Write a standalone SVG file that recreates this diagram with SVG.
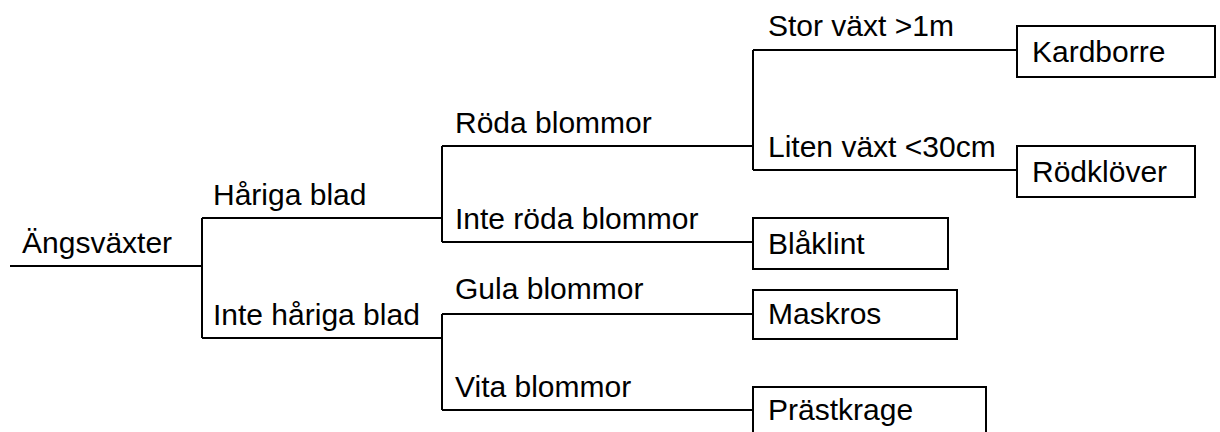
<svg xmlns="http://www.w3.org/2000/svg" width="1220" height="432" viewBox="0 0 1220 432">
<style>
  .ln { stroke: #000; stroke-width: 2; fill: none; }
  .box { stroke: #000; stroke-width: 2; fill: #fff; }
  text { font-family: "Liberation Sans", Arial, sans-serif; font-size: 30px; fill: #000; }
</style>
<rect width="1220" height="432" fill="#fff"/>
<g id="connectors">
  <path class="ln" d="M10,266 H202"/>
  <path class="ln" d="M202,218 V338"/>
  <path class="ln" d="M202,218 H442"/>
  <path class="ln" d="M202,338 H442"/>
  <path class="ln" d="M442,146 V242"/>
  <path class="ln" d="M442,146 H753"/>
  <path class="ln" d="M442,242 H753"/>
  <path class="ln" d="M753,50 V170"/>
  <path class="ln" d="M753,50 H1017"/>
  <path class="ln" d="M753,170 H1017"/>
  <path class="ln" d="M442,314 V410"/>
  <path class="ln" d="M442,314 H753"/>
  <path class="ln" d="M442,410 H753"/>
</g>
<g id="labels">
  <text x="22" y="253">Ängsväxter</text>
  <text x="213" y="205">Håriga blad</text>
  <text x="213" y="325">Inte håriga blad</text>
  <text x="455" y="133">Röda blommor</text>
  <text x="455" y="229">Inte röda blommor</text>
  <text x="768" y="36">Stor växt &gt;1m</text>
  <text x="768" y="157">Liten växt &lt;30cm</text>
  <text x="455" y="299">Gula blommor</text>
  <text x="455" y="397">Vita blommor</text>
</g>
<g id="kardborre">
  <rect class="box" x="1017" y="26" width="198" height="51"/>
  <text x="1032" y="62">Kardborre</text>
</g>
<g id="rodklover">
  <rect class="box" x="1017" y="146" width="178" height="51"/>
  <text x="1032" y="182">Rödklöver</text>
</g>
<g id="blaklint">
  <rect class="box" x="753" y="218" width="195" height="51"/>
  <text x="768" y="254">Blåklint</text>
</g>
<g id="maskros">
  <rect class="box" x="753" y="290" width="204" height="49"/>
  <text x="768" y="324">Maskros</text>
</g>
<g id="prastkrage">
  <rect class="box" x="753" y="387" width="233" height="60"/>
  <text x="768" y="420">Prästkrage</text>
</g>
</svg>
